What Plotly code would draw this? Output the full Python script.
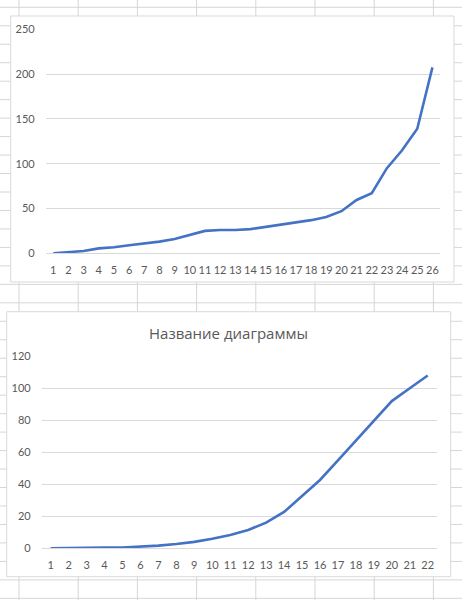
import plotly.graph_objects as go

W, H = 462, 600

# ---- data ----
cats1 = ["1", "2", "3", "4", "5", "6", "7", "8", "9", "10", "11", "12", "13",
         "14", "15", "16", "17", "18", "19", "20", "21", "22", "23", "24", "25", "26"]
vals1 = [0, 1, 2.5, 5.5, 6.7, 9, 11, 13, 16, 20.5, 25, 26, 26, 27, 29.5, 32,
         34, 37, 40.5, 47, 59.5, 67, 95, 115, 139, 207.5]

cats2 = ["1", "2", "3", "4", "5", "6", "7", "8", "9", "10", "11",
         "12", "13", "14", "15", "16", "17", "18", "19", "20", "21", "22"]
vals2 = [0, 0, 0, 0.4, 0.5, 1, 1.7, 2.7, 4, 6, 8.3, 11.5, 16, 22.7, 33, 42.7,
         55, 67.5, 80, 92, 100, 108]

title2 = "Название диаграммы"

# ---- styling ----
LINE = "#4472C4"
TXT = "#595959"
GRID = "#d9d9d9"
SHEET = "#d6d6d6"
TICKFONT = dict(family="Lato, Open Sans, sans-serif", size=11, color=TXT)


def px(x):
    return x / W


def py(y):
    return 1 - y / H


fig = go.Figure()
fig.add_trace(go.Scatter(x=cats1, y=vals1, mode="lines",
                         line=dict(color=LINE, width=2.6),
                         xaxis="x", yaxis="y", cliponaxis=False,
                         hoverinfo="skip", showlegend=False))
fig.add_trace(go.Scatter(x=cats2, y=vals2, mode="lines",
                         line=dict(color=LINE, width=2.6),
                         xaxis="x2", yaxis="y2", cliponaxis=False,
                         hoverinfo="skip", showlegend=False))

# spreadsheet background grid
shapes = []
col0, colw = 19.0, 59.2
x = col0
while x < W:
    shapes.append(dict(type="line", xref="paper", yref="paper",
                       x0=px(x), x1=px(x), y0=0, y1=1,
                       line=dict(color=SHEET, width=1), layer="below"))
    x += colw
row0, rowh = 7.3, 18.47
y = row0
while y < H:
    shapes.append(dict(type="line", xref="paper", yref="paper",
                       x0=0, x1=1, y0=py(y), y1=py(y),
                       line=dict(color=SHEET, width=1), layer="below"))
    y += rowh

# chart boxes
for (x0, y0, x1, y1) in [(10.7, 16, 454, 282), (6.7, 311.7, 450.7, 576.7)]:
    shapes.append(dict(type="rect", xref="paper", yref="paper",
                       x0=px(x0), x1=px(x1), y0=py(y1), y1=py(y0),
                       fillcolor="white", line=dict(color=GRID, width=1),
                       layer="below"))

common_x = dict(type="category", showgrid=False, showline=True,
                linecolor=GRID, linewidth=1, ticks="", tickfont=TICKFONT,
                tickangle=0, automargin=False,
                ticklabelstandoff=6, zeroline=False, fixedrange=True)
common_y = dict(showgrid=True, gridcolor=GRID, gridwidth=1, showline=False,
                zeroline=False, ticks="", tickfont=TICKFONT, automargin=False,
                ticklabelstandoff=10, fixedrange=True)

fig.update_layout(
    width=W, height=H, autosize=False,
    margin=dict(l=0, r=0, t=0, b=0, pad=0, autoexpand=False),
    paper_bgcolor="white", plot_bgcolor="rgba(0,0,0,0)",
    shapes=shapes,
    xaxis=dict(common_x, domain=[px(45.7), px(440)], anchor="y",
               range=[-0.5, len(cats1) - 0.5]),
    yaxis=dict(common_y, domain=[py(253.3), py(29.3)], anchor="x",
               range=[0, 250], dtick=50),
    xaxis2=dict(common_x, domain=[px(41.7), px(436.7)], anchor="y2",
                range=[-0.5, len(cats2) - 0.5]),
    yaxis2=dict(common_y, domain=[py(548.3), py(356.3)], anchor="x2",
                range=[0, 120], dtick=20),
    annotations=[dict(text=title2, xref="paper", yref="paper",
                      x=px(228.7), y=py(332.7), xanchor="center",
                      yanchor="middle", showarrow=False,
                      font=dict(family="Open Sans, Noto Sans, sans-serif",
                                size=15, color=TXT))],
)

fig.write_html("out.html",
               config={"displayModeBar": False, "staticPlot": True},
               post_script="document.body.style.margin='0';"
                           "document.body.style.overflow='hidden';")
